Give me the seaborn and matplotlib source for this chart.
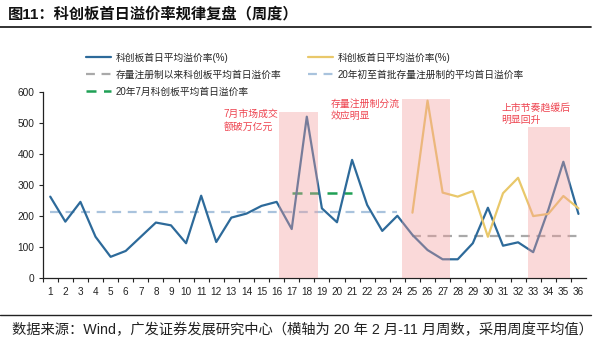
import numpy as np
import pandas as pd
import matplotlib
matplotlib.use("Agg")
import matplotlib.pyplot as plt
from matplotlib.lines import Line2D
import seaborn as sns

# ---------------- data ----------------
weeks = list(range(1, 37))
premium_all = [262, 181, 245, 132, 67, 86, 132, 178, 169, 111, 265, 115, 194, 207, 232, 245,
               157, 521, 224, 179, 381, 235, 151, 200, 138, 89, 59, 59, 111, 226, 103, 114,
               82, 219, 375, 206]
premium_reg_weeks = list(range(25, 37))
premium_reg = [210, 573, 275, 262, 280, 132, 273, 323, 199, 206, 264, 224]
avg_since_reg_weeks = list(range(25, 37))
avg_since_reg = [134] * 12
avg_early_weeks = list(range(1, 25))
avg_early = [213] * 24
avg_july_weeks = list(range(17, 22))
avg_july = [273] * 5
shade_left = [16.15, 24.3, 32.65]
shade_right = [18.73, 27.5, 35.46]
shade_top = [535, 578, 487]
y_ticks = [0, 100, 200, 300, 400, 500, 600]

labels = ["科创板首日平均溢价率(%)", "存量注册制以来科创板平均首日溢价率",
          "20年7月科创板平均首日溢价率", "科创板首日平均溢价率(%)",
          "20年初至首批存量注册制的平均首日溢价率"]
notes = ["7月市场成交\n额破万亿元", "存量注册制分流\n效应明显", "上市节奏趋缓后\n明显回升"]
note_x = [12.48, 19.57, 30.9]
note_y = [545, 580, 567]

# ---------------- style ----------------
sns.set_theme(style="white")
plt.rcParams["font.family"] = ["Liberation Sans", "Noto Sans CJK SC", "DejaVu Sans"]
plt.rcParams["axes.unicode_minus"] = False

c_blue = "#2D6A9A"
c_yellow = "#E9C86A"
c_gray = "#A9A9A9"
c_lblue = "#A9C3DD"
c_green = "#1FA055"
c_pink = "#F29C9C"
c_red = "#EE4450"

fig = plt.figure(figsize=(6.0, 3.43), dpi=100)
ax = fig.add_axes([42.7 / 600, 1 - 277.5 / 343, (586 - 42.7) / 600, (277.5 - 92.3) / 343])

dash = (0, (4, 3))
df1 = pd.DataFrame({"w": weeks, "v": premium_all})
sns.lineplot(data=df1, x="w", y="v", ax=ax, color=c_blue, linewidth=1.6, zorder=3)
df2 = pd.DataFrame({"w": premium_reg_weeks, "v": premium_reg})
sns.lineplot(data=df2, x="w", y="v", ax=ax, color=c_yellow, linewidth=1.6, zorder=3)
df3 = pd.DataFrame({"w": avg_since_reg_weeks, "v": avg_since_reg})
sns.lineplot(data=df3, x="w", y="v", ax=ax, color=c_gray, linewidth=1.6, linestyle=dash, zorder=2)
df4 = pd.DataFrame({"w": avg_early_weeks, "v": avg_early})
sns.lineplot(data=df4, x="w", y="v", ax=ax, color=c_lblue, linewidth=1.6, linestyle=dash, zorder=2)
df5 = pd.DataFrame({"w": avg_july_weeks, "v": avg_july})
sns.lineplot(data=df5, x="w", y="v", ax=ax, color=c_green, linewidth=1.8, linestyle=dash, zorder=2)

widths = [r - l for l, r in zip(shade_left, shade_right)]
ax.bar(shade_left, shade_top, width=widths, align="edge", color=c_pink, alpha=0.38,
       linewidth=0, zorder=5)

for t, x, y in zip(notes, note_x, note_y):
    ax.text(x, y, t, color=c_red, fontsize=7.1, va="top", ha="left", linespacing=1.35, zorder=6)

ax.set_xlim(0.5, 36.5)
ax.set_ylim(0, 600)
ax.set_xticks(weeks)
ax.set_xticklabels([str(w) for w in weeks])
ax.set_xticks([w + 0.5 for w in weeks[:-1]] + [0.5], minor=True)
ax.set_yticks(y_ticks)
ax.set_xlabel("")
ax.set_ylabel("")
ax.tick_params(axis="x", which="major", length=0, pad=7, labelsize=7.2, colors="#222222")
ax.tick_params(axis="x", which="minor", length=3, width=0.8, direction="out", color="#222222", bottom=True)
ax.tick_params(axis="y", length=3, width=0.8, direction="out", pad=3, labelsize=7.3,
               colors="#222222", left=True)
for s in ["top", "right"]:
    ax.spines[s].set_visible(False)
for s in ["left", "bottom"]:
    ax.spines[s].set_color("#222222")
    ax.spines[s].set_linewidth(0.9)
ax.grid(False)
leg0 = ax.get_legend()
if leg0 is not None:
    leg0.remove()

handles = [
    Line2D([], [], color=c_blue, linewidth=1.6),
    Line2D([], [], color=c_gray, linewidth=1.6, linestyle=dash),
    Line2D([], [], color=c_green, linewidth=1.8, linestyle=dash),
    Line2D([], [], color=c_yellow, linewidth=1.6),
    Line2D([], [], color=c_lblue, linewidth=1.6, linestyle=dash),
]
fig.legend(handles, labels, ncol=2, loc="upper left", bbox_to_anchor=(86 / 600, 1 - 52.5 / 343),
           frameon=False, fontsize=7, handlelength=2.6, handletextpad=0.45, labelspacing=0.72,
           columnspacing=2.7, borderpad=0, borderaxespad=0)

# title and source
fig.text(8 / 600, 1 - 14 / 343, "图11：科创板首日溢价率规律复盘（周度）", fontsize=11,
         fontweight="bold", va="center", ha="left", color="#111111")
fig.add_artist(Line2D([0, 0.985], [1 - 27 / 343, 1 - 27 / 343], color="#222222", linewidth=1.3))
fig.add_artist(Line2D([0, 0.985], [1 - 315 / 343, 1 - 315 / 343], color="#222222", linewidth=1.0))
fig.text(12 / 600, 1 - 330 / 343,
         "数据来源：Wind，广发证券发展研究中心（横轴为 20 年 2 月-11 月周数，采用周度平均值）",
         fontsize=10.3, va="center", ha="left", color="#222222")

fig.savefig("out.png", dpi=100)
